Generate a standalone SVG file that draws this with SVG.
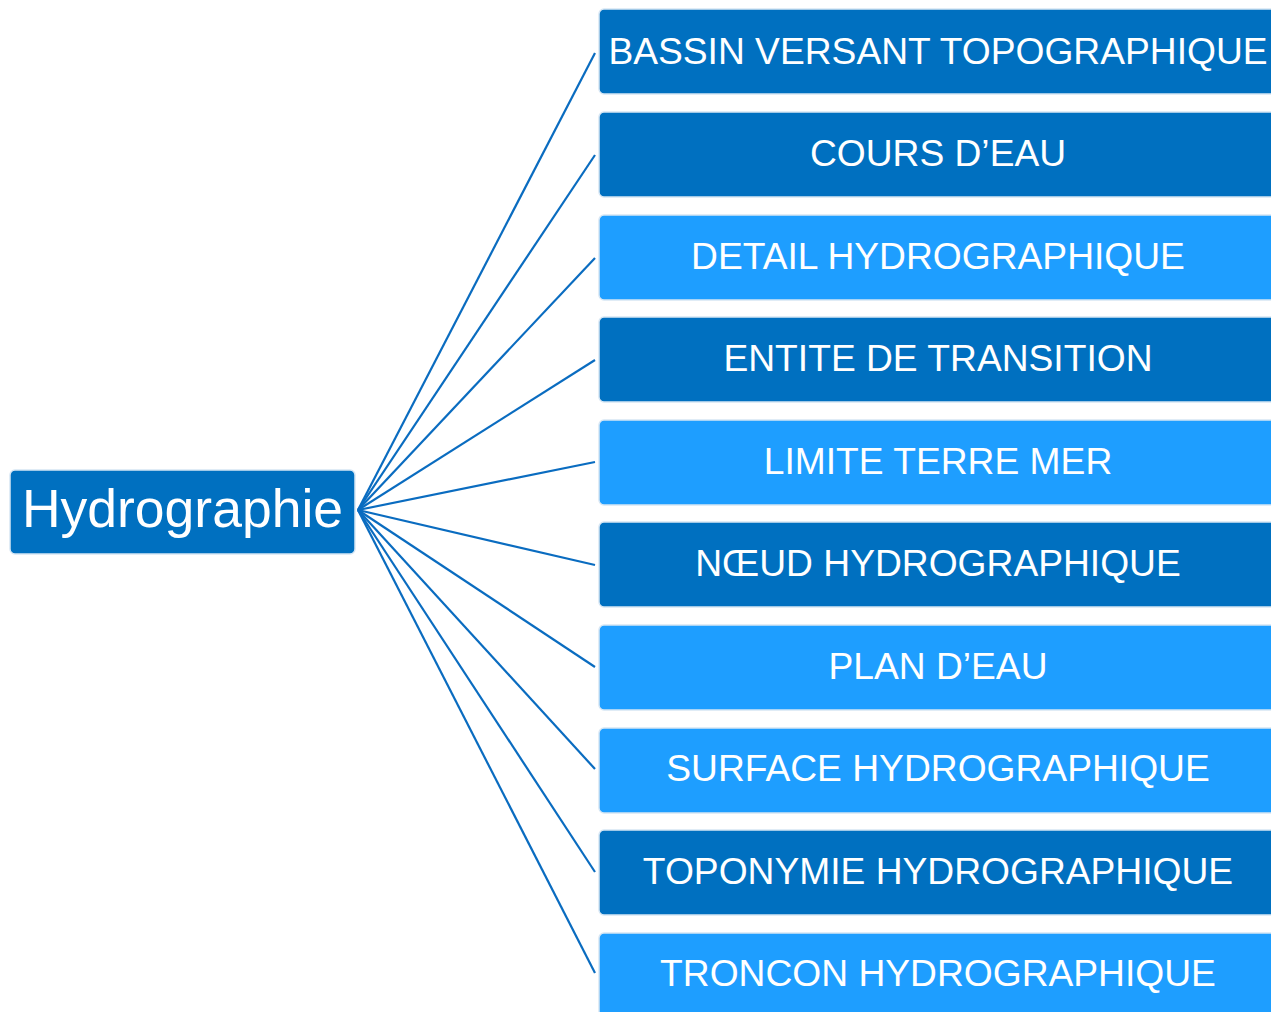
<svg xmlns="http://www.w3.org/2000/svg" width="1271" height="1012" viewBox="0 0 1271 1012">
<style>
.dark{fill:#0070C0;stroke:#D6E6F4;stroke-width:1.5}
.light{fill:#1E9EFF;stroke:#D6E6F4;stroke-width:1.5}
.t{font-family:"Liberation Sans",Arial,sans-serif;font-size:37.2px;fill:#FFFFFF;text-anchor:middle}
.c line{stroke:#0A6CC0;stroke-width:2.2}
</style>
<rect width="1271" height="1012" fill="#FFFFFF"/>
<g class="c" id="connectors">
<line x1="358" y1="510" x2="595" y2="53"/>
<line x1="358" y1="510" x2="595" y2="155"/>
<line x1="358" y1="510" x2="595" y2="258"/>
<line x1="358" y1="510" x2="595" y2="360"/>
<line x1="358" y1="510" x2="595" y2="462"/>
<line x1="358" y1="510" x2="595" y2="565"/>
<line x1="358" y1="510" x2="595" y2="667"/>
<line x1="358" y1="510" x2="595" y2="769"/>
<line x1="358" y1="510" x2="595" y2="872"/>
<line x1="358" y1="510" x2="595" y2="973"/>
</g>
<g id="root"><rect class="dark" x="10" y="470" width="345" height="84" rx="5"/><text x="182.5" y="527" class="t" style="font-size:53.5px">Hydrographie</text></g>
<g id="n1"><rect class="dark" x="599" y="9" width="680" height="85" rx="5"/><text class="t" x="938" y="63.5">BASSIN VERSANT TOPOGRAPHIQUE</text></g>
<g id="n2"><rect class="dark" x="599" y="112" width="680" height="85" rx="5"/><text class="t" x="938" y="166">COURS D’EAU</text></g>
<g id="n3"><rect class="light" x="599" y="215" width="680" height="85" rx="5"/><text class="t" x="938" y="268.5">DETAIL HYDROGRAPHIQUE</text></g>
<g id="n4"><rect class="dark" x="599" y="317" width="680" height="85" rx="5"/><text class="t" x="938" y="371">ENTITE DE TRANSITION</text></g>
<g id="n5"><rect class="light" x="599" y="420" width="680" height="85" rx="5"/><text class="t" x="938" y="473.5">LIMITE TERRE MER</text></g>
<g id="n6"><rect class="dark" x="599" y="522" width="680" height="85" rx="5"/><text class="t" x="938" y="576">NŒUD HYDROGRAPHIQUE</text></g>
<g id="n7"><rect class="light" x="599" y="625" width="680" height="85" rx="5"/><text class="t" x="938" y="678.5">PLAN D’EAU</text></g>
<g id="n8"><rect class="light" x="599" y="728" width="680" height="85" rx="5"/><text class="t" x="938" y="781">SURFACE HYDROGRAPHIQUE</text></g>
<g id="n9"><rect class="dark" x="599" y="830" width="680" height="85" rx="5"/><text class="t" x="938" y="883.5">TOPONYMIE HYDROGRAPHIQUE</text></g>
<g id="n10"><rect class="light" x="599" y="933" width="680" height="85" rx="5"/><text class="t" x="938" y="986">TRONCON HYDROGRAPHIQUE</text></g>
</svg>
